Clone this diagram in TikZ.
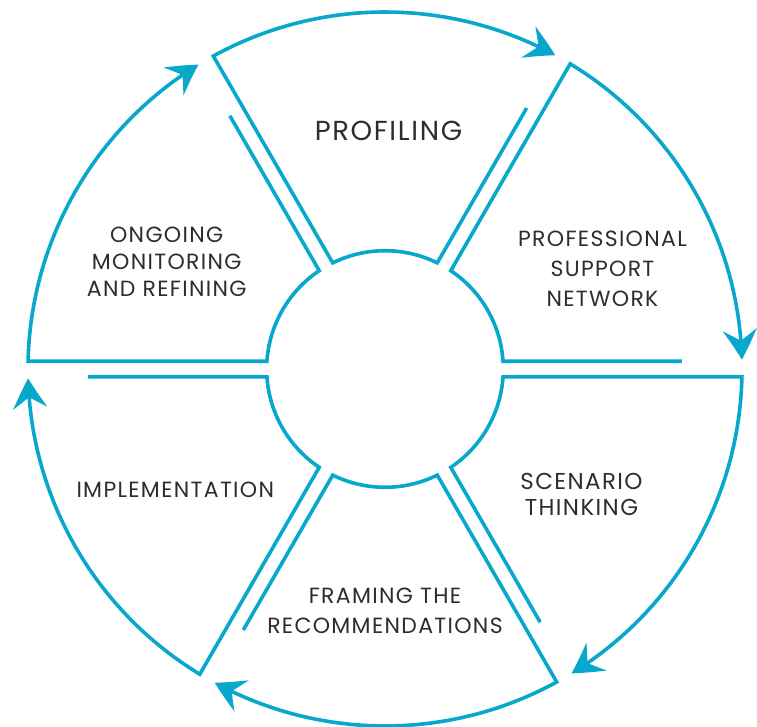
\documentclass[tikz,border=0pt]{standalone}
\usepackage{fontspec}
\setmainfont{Poppins}
\newfontfamily\stepfont{Poppins}[LetterSpace=6]
\usetikzlibrary{arrows.meta,bending}
\definecolor{cycleblue}{RGB}{8,168,204}
\definecolor{textgrey}{RGB}{45,45,45}

\begin{document}
\begin{tikzpicture}[x=1pt,y=1pt,
  ring/.style={draw=cycleblue, line width=3.6pt, line join=miter,
    -{Stealth[length=30pt,width=34pt,inset=11pt,bend]}},
  steptext/.style={text=textgrey, align=center, inner sep=0pt,
    font=\stepfont\fontsize{22}{30}\selectfont}]
\useasboundingbox (-385,-357) rectangle (372,369);
% radii: hub, outer ring, end of the short divider strokes
\def\rin{118.3}
\def\rout{357}
\def\rfree{297}
% one stage per 60 degree sector, clockwise from the top
\foreach \a in {120,60,0,-60,-120,-180} {
  \pgfmathsetmacro\b{\a-60}
  \draw[ring] ({\b+1.5}:\rfree) -- ({\b+3.78}:\rin)
    arc[start angle={\b+3.78}, end angle={\a-3.78}, radius=\rin]
    -- ({\a-1.25}:\rout)
    arc[start angle={\a-1.25}, end angle={\b+1.5}, radius=\rout];
}
\node[steptext, font=\stepfont\fontsize{27.5}{30}\selectfont] (profiling) at (3.5,238) {PROFILING};
\node[steptext] (network) at (217.5,100) {PROFESSIONAL\\SUPPORT\\NETWORK};
\node[steptext, font=\stepfont\fontsize{23}{26}\selectfont] (scenario) at (196.5,-125) {SCENARIO\\THINKING};
\node[steptext] (framing) at (0,-241.5) {FRAMING THE\\RECOMMENDATIONS};
\node[steptext] (implementation) at (-209.7,-120.5) {IMPLEMENTATION};
\node[steptext, font=\stepfont\fontsize{22}{27}\selectfont] (monitoring) at (-218.3,107) {ONGOING\\MONITORING\\AND REFINING};
\end{tikzpicture}
\end{document}
